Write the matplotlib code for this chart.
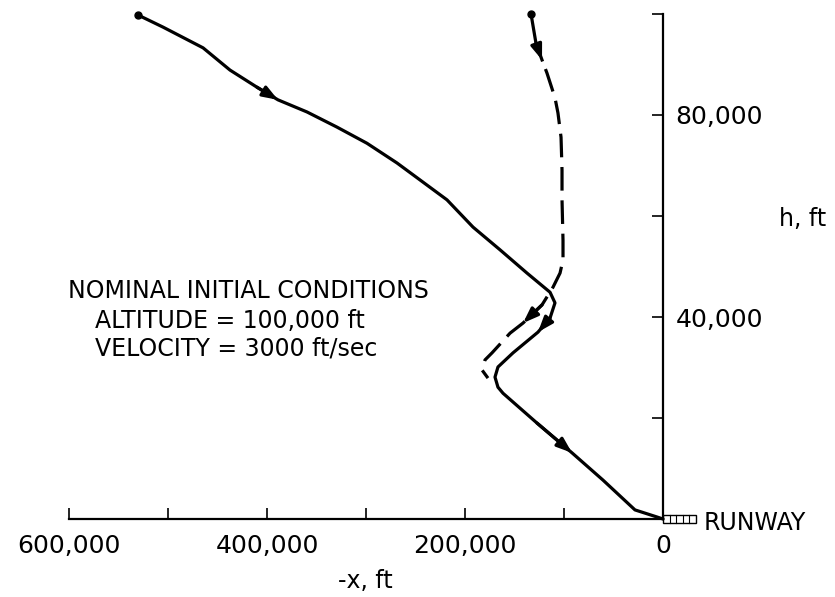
import matplotlib
matplotlib.use("Agg")
import matplotlib.pyplot as plt
from matplotlib.ticker import FixedLocator, FuncFormatter
from matplotlib.patches import Rectangle

plt.rcParams['font.family'] = ['DejaVu Sans']
plt.rcParams['lines.scale_dashes'] = False

# ---- data (x = -x distance to runway, ft ; h = altitude, ft) ----
solid_x = [530300, 505000, 464600, 437400, 410100, 388900, 359600, 329300, 299000,
           268700, 242400, 218200, 191900, 164600, 137400, 114100, 109100, 114100,
           126300, 151500, 166700, 169700, 166700, 161600, 127300, 91900, 60600,
           28300, 6100, 0]
solid_h = [99800, 97400, 93300, 88900, 85500, 83000, 80600, 77600, 74400,
           70500, 66700, 63200, 57800, 53300, 48700, 44900, 42800, 39800,
           37000, 32900, 30100, 28100, 26100, 24900, 19000, 13100, 7700,
           1800, 400, 0]
solid_arrows = [5, 18, 25]

dash_x = [133300, 128300, 122200, 117200, 109100, 106100, 103000, 102000, 102000,
          101000, 101000, 104000, 111100, 122200, 141400, 154500, 172700, 179800,
          182800, 176800]
dash_h = [100000, 94200, 90900, 88300, 83400, 80400, 75600, 69100, 63200,
          55200, 51300, 48700, 45900, 42400, 38800, 36800, 32900, 31500,
          29500, 27900]
dash_solid_end = 2
dash_arrows = [2, 14]

x_ticks = [0, 100000, 200000, 300000, 400000, 500000, 600000]
x_labeled = [0, 200000, 400000, 600000]
y_ticks = [0, 20000, 40000, 60000, 80000, 100000]
y_labeled = [40000, 80000]
runway_length = 33000
runway_cells = 5

note_lines = ["NOMINAL INITIAL CONDITIONS",
              "ALTITUDE = 100,000 ft",
              "VELOCITY = 3000 ft/sec"]

W, H = 835, 597
fig = plt.figure(figsize=(W / 100, H / 100), dpi=100)
ax = fig.add_axes([69 / W, 1 - 519 / H, (663 - 69) / W, (519 - 14) / H])
ax.set_xlim(600000, 0)
ax.set_ylim(0, 100000)

LW = 2.3
ax.plot(solid_x, solid_h, color='black', lw=LW, solid_joinstyle='round',
        solid_capstyle='round', clip_on=False)
ax.plot(dash_x[:dash_solid_end + 1], dash_h[:dash_solid_end + 1], color='black',
        lw=LW, solid_joinstyle='round', clip_on=False)
ax.plot(dash_x[dash_solid_end:], dash_h[dash_solid_end:], color='black', lw=LW,
        ls=(17, (17, 7)), dash_capstyle='butt', clip_on=False)
ax.plot([solid_x[0], dash_x[0]], [solid_h[0], dash_h[0]], 'o', color='black',
        ms=5, ls='none', clip_on=False)


def arrow_at(xs, hs, i):
    ax.annotate('', xy=(xs[i], hs[i]), xytext=(xs[i - 1], hs[i - 1]),
                arrowprops=dict(arrowstyle='-|>,head_length=0.6,head_width=0.22',
                                color='black', lw=LW,
                                mutation_scale=15, shrinkA=0, shrinkB=0))


for i in solid_arrows:
    arrow_at(solid_x, solid_h, i)
for i in dash_arrows:
    arrow_at(dash_x, dash_h, i)

# runway
rw_h = 1400
ax.add_patch(Rectangle((0, -rw_h / 2), -runway_length, rw_h, fill=False,
                       ec='black', lw=1.0, clip_on=False))
for k in range(1, runway_cells):
    xx = -runway_length * k / runway_cells
    ax.plot([xx, xx], [-rw_h / 2, rw_h / 2], color='black', lw=0.8, clip_on=False)

# axes styling
for s in ['top', 'left']:
    ax.spines[s].set_visible(False)
for s in ['right', 'bottom']:
    ax.spines[s].set_linewidth(1.6)
ax.yaxis.tick_right()
ax.xaxis.set_major_locator(FixedLocator(x_ticks))
ax.yaxis.set_major_locator(FixedLocator(y_ticks))
ax.xaxis.set_major_formatter(FuncFormatter(lambda v, p: f"{int(v):,}" if int(v) in x_labeled else ""))
ax.yaxis.set_major_formatter(FuncFormatter(lambda v, p: f"{int(v):,}" if int(v) in y_labeled else ""))
ax.tick_params(axis='both', direction='in', length=8, width=1.2, labelsize=18)
ax.tick_params(axis='x', pad=11)
ax.tick_params(axis='y', pad=9)

FS = 17
fig.text(68 / W, 1 - 298 / H, note_lines[0], fontsize=FS, ha='left', va='baseline')
fig.text(95 / W, 1 - 328 / H, note_lines[1], fontsize=FS, ha='left', va='baseline')
fig.text(95 / W, 1 - 355 / H, note_lines[2], fontsize=FS, ha='left', va='baseline')
fig.text(779 / W, 1 - 226 / H, "h, ft", fontsize=FS, ha='left', va='baseline')
fig.text(365 / W, 1 - 588 / H, "-x, ft", fontsize=FS, ha='center', va='baseline')
fig.text(704 / W, 1 - 530 / H, "RUNWAY", fontsize=FS, ha='left', va='baseline')

fig.savefig("out.png", dpi=100)
